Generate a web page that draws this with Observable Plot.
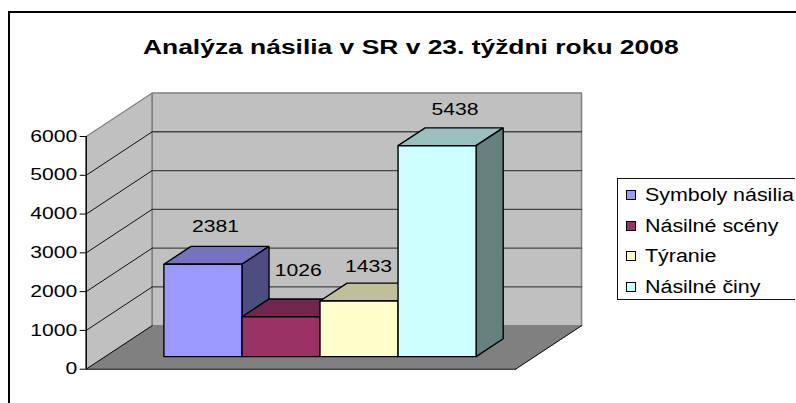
<!DOCTYPE html>
<html><head><meta charset="utf-8">
<script src="https://cdn.jsdelivr.net/npm/d3@7"></script>
<script src="https://cdn.jsdelivr.net/npm/@observablehq/plot@0.6"></script>
<style>
html,body{margin:0;padding:0;background:#fff;overflow:hidden}
#wrap{position:relative;width:796px;height:403px;overflow:hidden;font-family:"Liberation Sans",Arial,sans-serif;color:#000}
#frame{position:absolute;left:8px;top:11px;right:-4px;bottom:-4px;border:2px solid #000;box-sizing:border-box}
#title{position:absolute;left:143px;top:36px;font-size:20px;font-weight:bold;white-space:nowrap;transform-origin:0 0;transform:scaleX(1.32)}
#legend{position:absolute;left:617px;top:178px;width:178px;height:122px;border:1px solid #111;border-right:none;box-sizing:border-box;background:#fff;overflow:visible}
.row{position:absolute;left:8px;height:18px;line-height:18px;font-size:18px;white-space:nowrap}
.sw{display:inline-block;position:absolute;left:0;top:4px;width:10px;height:10px;border:1px solid #000;box-sizing:border-box}
.lb{position:absolute;left:19px;top:0;transform-origin:0 50%;transform:scaleX(1.19)}
svg{position:absolute;left:0;top:0}
</style></head><body><div id="wrap"><div id="frame"></div></div>
<script>
const titleText = "Analýza násilia v SR v 23. týždni roku 2008";
const categories = ["Symboly násilia", "Násilné scény", "Týranie", "Násilné činy"];
const values = [2381, 1026, 1433, 5438];
const yTicks = [0, 1000, 2000, 3000, 4000, 5000, 6000];
const frontColors = ["#9999FF", "#993366", "#FFFFCC", "#CCFFFF"];
const topColors = ["#7373BF", "#73264D", "#BFBF99", "#99BFBF"];
const sideColors = ["#4D4D80", "#4D1A33", "#808066", "#668080"];
const labelNudgeX = [0.16, 0.22, 0.12, 0.23];
const labelNudgeY = [970, 1190, 880, 930];

// 3-D box projected through the chart's own units
const xMax = 5.5, yMax = 6000, gap = 0.75;
const depthX = 0.846, depthY = 1122, zFront = 0.29, zBack = 0.70;
const P = (x, v, z) => ({x: x + z * depthX, y: v + z * depthY});
const face = (pts, fill, stroke = "#000", strokeWidth = 1.4) =>
  Plot.line([...pts, pts[0]], {x: "x", y: "y", fill, stroke, strokeWidth, curve: "linear", strokeLinejoin: "miter"});
const seg = (a, b, stroke, strokeWidth = 1) =>
  Plot.line([a, b], {x: "x", y: "y", stroke, strokeWidth, curve: "linear"});

const marks = [];
marks.push(face([P(0,0,0),P(0,yMax,0),P(0,yMax,1),P(0,0,1)], "#C0C0C0", "#808080", 1.2));
marks.push(face([P(0,0,1),P(0,yMax,1),P(xMax,yMax,1),P(xMax,0,1)], "#C0C0C0", "#808080", 1.5));
marks.push(face([P(0,0,0),P(xMax,0,0),P(xMax,0,1),P(0,0,1)], "#808080", "#808080", 1));
for (const v of yTicks.slice(1, -1)) {
  marks.push(seg(P(0,v,0), P(0,v,1), "#111"));
  marks.push(seg(P(0,v,1), P(xMax,v,1), "#444", 1.3));
}
marks.push(seg(P(0,0,0), P(xMax,0,0), "#444", 1.5));
marks.push(seg(P(xMax,0,0), P(xMax,0,1), "#111", 1));
marks.push(seg(P(0,0,0), P(0,0,1), "#111", 1));
values.forEach((v, i) => {
  const a = gap + i, b = a + 1;
  marks.push(face([P(a,v,zFront),P(a,v,zBack),P(b,v,zBack),P(b,v,zFront)], topColors[i]));
  marks.push(face([P(b,0,zFront),P(b,0,zBack),P(b,v,zBack),P(b,v,zFront)], sideColors[i]));
  marks.push(face([P(a,0,zFront),P(b,0,zFront),P(b,v,zFront),P(a,v,zFront)], frontColors[i]));
});
marks.push(Plot.ruleX([0], {y1: 0, y2: yMax, stroke: "#000", strokeWidth: 1.4}));
marks.push(Plot.axisY({ticks: yTicks, tickSize: 6, tickPadding: 3, fontSize: 16, tickFormat: d => String(d), label: null, color: "#000"}));
marks.push(Plot.text(values, {
  x: (d, i) => P(gap + i + 0.5 + labelNudgeX[i], d, zFront).x,
  y: (d, i) => P(0, d + labelNudgeY[i], zFront).y,
  text: d => String(d), fontSize: 16, fill: "#000", textAnchor: "middle"
}));

const chart = Plot.plot({
  width: 796, height: 403,
  marginLeft: 85.7, marginRight: 281, marginTop: 136, marginBottom: 34.3,
  style: {fontFamily: '"Liberation Sans",Arial,sans-serif', background: "transparent", overflow: "visible"},
  x: {domain: [0, xMax], axis: null},
  y: {domain: [0, yMax], axis: null},
  marks
});
const wrap = document.getElementById("wrap");
wrap.appendChild(chart);
// the reference is horizontally stretched
d3.select(chart).selectAll("text").each(function() {
  const len = this.getComputedTextLength();
  this.setAttribute("lengthAdjust", "spacingAndGlyphs");
  this.setAttribute("textLength", len * 1.32);
});

const title = document.createElement("div");
title.id = "title"; title.textContent = titleText; wrap.appendChild(title);
const legend = document.createElement("div");
legend.id = "legend";
const rowTops = [7, 38, 68, 99];
categories.forEach((c, i) => {
  const r = document.createElement("div"); r.className = "row"; r.style.top = rowTops[i] + "px";
  const s = document.createElement("span"); s.className = "sw"; s.style.background = frontColors[i];
  const l = document.createElement("span"); l.className = "lb"; l.textContent = c;
  r.append(s, l); legend.appendChild(r);
});
wrap.appendChild(legend);
</script></body></html>
